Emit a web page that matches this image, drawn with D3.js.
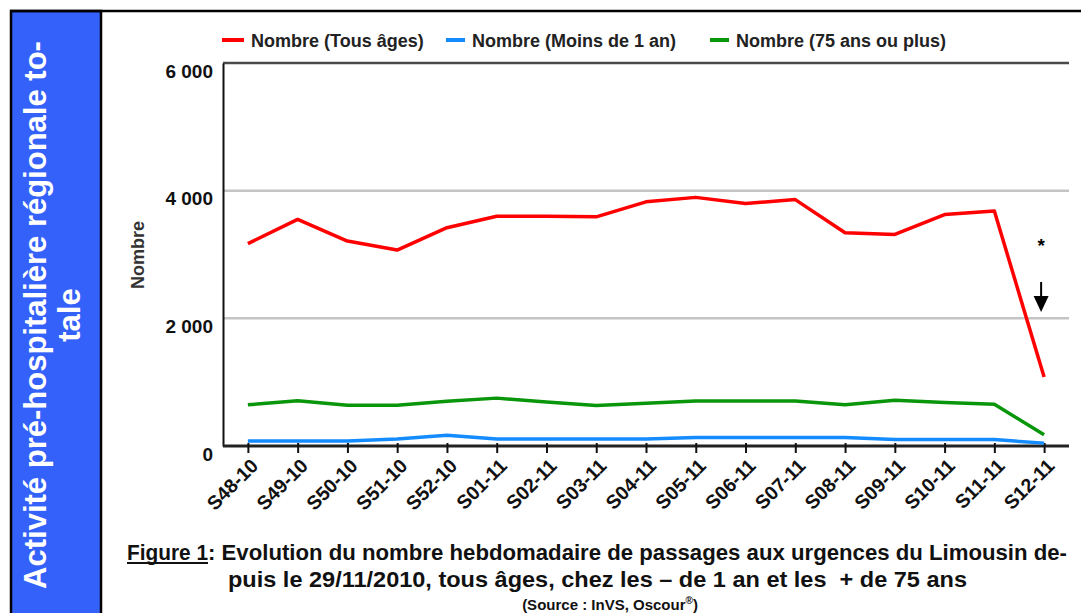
<!DOCTYPE html>
<html>
<head>
<meta charset="utf-8">
<script src="https://cdn.jsdelivr.net/npm/d3@7"></script>
<style>
  html, body { margin: 0; padding: 0; background: #fff; }
  svg { display: block; font-family: "Liberation Sans", Arial, sans-serif; }
</style>
</head>
<body>
<svg id="chart"></svg>
<script>
// semaines et séries
var weeks = ["S48-10","S49-10","S50-10","S51-10","S52-10","S01-11","S02-11","S03-11","S04-11",
             "S05-11","S06-11","S07-11","S08-11","S09-11","S10-11","S11-11","S12-11"];
var tousAges = [3170,3550,3210,3070,3420,3600,3600,3590,3825,3895,3800,3860,3340,3315,3625,3680,1080];
var moins1an = [80,80,80,110,170,110,110,110,110,135,135,135,135,100,100,100,45];
var plus75   = [645,710,640,640,700,750,690,635,670,705,705,705,645,715,680,655,175];

var seriesNames  = ["Nombre (Tous âges)", "Nombre (Moins de 1 an)", "Nombre (75 ans ou plus)"];
var seriesColors = ["#ff0000", "#148cff", "#0a960a"];
var yTicks = [0, 2000, 4000, 6000];

var W = 1081, H = 613;
var plot = {left: 223, right: 1069, top: 63, bottom: 446};

var svg = d3.select("#chart").attr("width", W).attr("height", H);
svg.append("rect").attr("width", W).attr("height", H).attr("fill", "#fff");

// panneau bleu à gauche
svg.append("rect")
  .attr("x", 11).attr("y", 11).attr("width", 90).attr("height", H + 10)
  .attr("fill", "#3561fb").attr("stroke", "#000").attr("stroke-width", 2.5);
svg.append("line").attr("x1", 10).attr("x2", W).attr("y1", 11).attr("y2", 11)
  .attr("stroke", "#000").attr("stroke-width", 2.5);

var side = svg.append("text")
  .attr("transform", "translate(0,315) rotate(-90)")
  .attr("text-anchor", "middle")
  .attr("fill", "#fff").attr("font-weight", "bold").attr("font-size", 31);
side.append("tspan").attr("x", 0).attr("y", 46).text("Activité pré-hospitalière régionale to-");
side.append("tspan").attr("x", 0).attr("y", 80).text("tale");

// échelles
var x = d3.scalePoint().domain(weeks).range([plot.left, plot.right]).padding(0.5);
var y = d3.scaleLinear().domain([0, 6000]).range([plot.bottom, plot.top]);

var fr = d3.formatLocale({decimal: ",", thousands: " ", grouping: [3], currency: ["", ""]});
var fmt = fr.format(",");

// grille
svg.append("g").selectAll("line").data(yTicks.filter(function(d) { return d > 0; }))
  .join("line")
  .attr("x1", plot.left).attr("x2", plot.right)
  .attr("y1", function(d) { return y(d); }).attr("y2", function(d) { return y(d); })
  .attr("stroke", function(d) { return d === 6000 ? "#4a4a4a" : "#c4c4c4"; })
  .attr("stroke-width", 2.5);

// axe Y
var yAxis = svg.append("g")
  .attr("transform", "translate(" + plot.left + ",0)")
  .call(d3.axisLeft(y).tickValues(yTicks).tickSize(0).tickPadding(10).tickFormat(fmt));
yAxis.select(".domain").attr("stroke", "#111").attr("stroke-width", 2);
yAxis.selectAll("text")
  .attr("font-family", "Liberation Sans, Arial, sans-serif")
  .attr("font-size", 19).attr("font-weight", "bold").attr("fill", "#111")
  .attr("dy", "0.75em");

svg.append("text")
  .attr("transform", "translate(144,255) rotate(-90)")
  .attr("text-anchor", "middle")
  .attr("font-size", 18).attr("font-weight", "bold").attr("fill", "#333")
  .text("Nombre");

// axe X
var xAxis = svg.append("g")
  .attr("transform", "translate(0," + plot.bottom + ")")
  .call(d3.axisBottom(x).tickSizeInner(7).tickSizeOuter(0).tickPadding(0));
xAxis.select(".domain").attr("stroke", "#222").attr("stroke-width", 3)
  .attr("d", "M" + plot.left + ",0H" + plot.right);
xAxis.selectAll(".tick line").attr("stroke", "#111").attr("stroke-width", 2).attr("y1", -3);
xAxis.selectAll(".tick text")
  .attr("font-family", "Liberation Sans, Arial, sans-serif")
  .attr("font-size", 19.5).attr("font-weight", "bold").attr("fill", "#111")
  .attr("text-anchor", "end")
  .attr("y", 0).attr("dy", 0)
  .attr("transform", "translate(11,21) rotate(-45)");

// courbes
var line = d3.line()
  .x(function(d, i) { return x(weeks[i]); })
  .y(function(d) { return y(d); });

var allSeries = [tousAges, moins1an, plus75];
[plus75, moins1an, tousAges].forEach(function(s) {
  var k = allSeries.indexOf(s);
  svg.append("path")
    .datum(s)
    .attr("fill", "none")
    .attr("stroke", seriesColors[k])
    .attr("stroke-width", 3.5)
    .attr("stroke-linejoin", "round")
    .attr("d", line);
});

// légende
var legendX = [222, 446, 710];
var legend = svg.append("g").selectAll("g").data(seriesNames).join("g")
  .attr("transform", function(d, i) { return "translate(" + legendX[i] + ",40)"; });
legend.append("line")
  .attr("x1", 0).attr("x2", function(d, i) { return i === 0 ? 22 : 19; })
  .attr("stroke", function(d, i) { return seriesColors[i]; })
  .attr("stroke-width", 4);
legend.append("text")
  .attr("x", function(d, i) { return i === 0 ? 29 : 26; }).attr("y", 7)
  .attr("font-size", 18).attr("font-weight", "bold").attr("fill", "#222")
  .text(function(d) { return d; });

// annotation : astérisque et flèche
var ax = x(weeks[weeks.length - 1]) - 3;
svg.append("text").attr("x", ax).attr("y", 252).attr("text-anchor", "middle")
  .attr("font-size", 19).attr("font-weight", "bold").text("*");
svg.append("line").attr("x1", ax).attr("x2", ax).attr("y1", 282).attr("y2", 298)
  .attr("stroke", "#000").attr("stroke-width", 2);
svg.append("path")
  .attr("d", "M" + (ax - 7.5) + ",296L" + (ax + 7.5) + ",296L" + ax + ",312Z")
  .attr("fill", "#000");

// légende de la figure
svg.append("text").attr("x", 127).attr("y", 560)
  .attr("font-size", 22).attr("font-weight", "bold").attr("fill", "#111")
  .attr("textLength", 81).attr("lengthAdjust", "spacingAndGlyphs")
  .text("Figure 1");
svg.append("line").attr("x1", 127).attr("x2", 208).attr("y1", 563).attr("y2", 563)
  .attr("stroke", "#111").attr("stroke-width", 1.8);
svg.append("text").attr("x", 208).attr("y", 560)
  .attr("font-size", 22).attr("font-weight", "bold").attr("fill", "#111")
  .attr("textLength", 859).attr("lengthAdjust", "spacingAndGlyphs")
  .text(" : Evolution du nombre hebdomadaire de passages aux urgences du Limousin de-");
svg.append("text").attr("x", 228).attr("y", 587)
  .attr("font-size", 22).attr("font-weight", "bold").attr("fill", "#111")
  .attr("textLength", 739).attr("lengthAdjust", "spacingAndGlyphs")
  .attr("xml:space", "preserve")
  .text("puis le 29/11/2010, tous âges, chez les – de 1 an et les  + de 75 ans");
var src = svg.append("text").attr("x", 610).attr("y", 610).attr("text-anchor", "middle")
  .attr("font-size", 15).attr("font-weight", "bold").attr("fill", "#111");
src.append("tspan").text("(Source : InVS, Oscour");
src.append("tspan").attr("font-size", 10).attr("dy", -6).text("®");
src.append("tspan").attr("dy", 6).text(")");
</script>
</body>
</html>
